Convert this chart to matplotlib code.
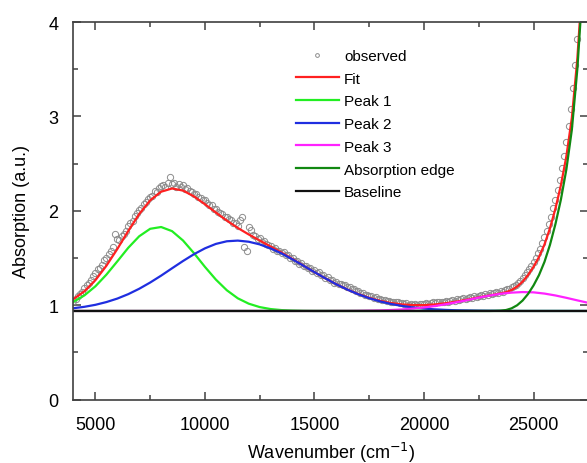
import numpy as np
import matplotlib.pyplot as plt
from matplotlib.ticker import MultipleLocator

plt.rcParams['font.family'] = ['Liberation Sans', 'DejaVu Sans']

# wavenumber grid for the fitted components (cm-1)
wn = np.arange(4000, 27501, 500)

baseline_x = [4000, 27500]
baseline_y = [0.94, 0.94]

peak1 = [1.037, 1.105, 1.201, 1.324, 1.465, 1.609, 1.731, 1.810, 1.829, 1.785,
         1.686, 1.552, 1.407, 1.272, 1.159, 1.074, 1.017, 0.981, 0.960, 0.949,
         0.944, 0.941] + [0.94] * 26

peak2 = [0.969, 0.984, 1.005, 1.034, 1.071, 1.118, 1.175, 1.241, 1.314, 1.392,
         1.469, 1.541, 1.603, 1.650, 1.678, 1.685, 1.673, 1.645, 1.602, 1.549,
         1.486, 1.419, 1.351, 1.285, 1.222, 1.166, 1.117, 1.075, 1.041, 1.014,
         0.993, 0.977, 0.965, 0.957, 0.951, 0.947, 0.945, 0.943, 0.942, 0.941] + [0.94] * 8

peak3 = [0.94] * 22 + [0.940, 0.940, 0.941, 0.941, 0.942, 0.944, 0.946, 0.950, 0.956, 0.965,
                      0.977, 0.992, 1.011, 1.033, 1.056, 1.081, 1.103, 1.122, 1.134, 1.140,
                      1.137, 1.124, 1.104, 1.079, 1.052, 1.026]

edge_x = [4000, 22000, 23000, 23250, 23500, 23750, 24000, 24250, 24500, 24750, 25000,
          25250, 25500, 25750, 26000, 26250, 26500, 26750, 27000, 27250, 27500]
edge_y = [0.94, 0.94, 0.940, 0.941, 0.943, 0.950, 0.968, 1.000, 1.050, 1.120, 1.210,
          1.320, 1.460, 1.640, 1.860, 2.120, 2.440, 2.860, 3.500, 4.400, 5.500]

fit_x = list(range(4000, 23001, 500)) + list(range(23250, 27501, 250))
fit_y = [1.066, 1.149, 1.266, 1.418, 1.596, 1.787, 1.966, 2.111, 2.203, 2.237,
         2.215, 2.153, 2.070, 1.982, 1.897, 1.819, 1.750, 1.686, 1.622, 1.558,
         1.490, 1.420, 1.351, 1.285, 1.223, 1.167, 1.119, 1.079, 1.047, 1.024,
         1.009, 1.002, 1.002, 1.009, 1.022, 1.040, 1.061, 1.084, 1.105,
         1.115, 1.126, 1.139, 1.162, 1.198, 1.250, 1.320, 1.407, 1.512, 1.644,
         1.815, 2.024, 2.272, 2.579, 2.986, 3.612, 4.499, 5.586]

obs_x = np.arange(4000, 27101, 100)
obs_y = [1.05, 1.07, 1.10, 1.12, 1.14, 1.18, 1.22, 1.24, 1.27, 1.31,
         1.34, 1.38, 1.40, 1.43, 1.48, 1.50, 1.54, 1.57, 1.62, 1.76,
         1.70, 1.69, 1.73, 1.76, 1.79, 1.84, 1.87, 1.89, 1.95, 1.98,
         2.01, 2.03, 2.07, 2.09, 2.13, 2.15, 2.16, 2.21, 2.20, 2.24,
         2.26, 2.27, 2.25, 2.30, 2.36, 2.28, 2.30, 2.25, 2.28, 2.25,
         2.27, 2.23, 2.24, 2.21, 2.20, 2.18, 2.18, 2.15, 2.14, 2.11,
         2.11, 2.08, 2.06, 2.06, 2.02, 2.02, 1.99, 1.98, 1.97, 1.94,
         1.94, 1.91, 1.90, 1.87, 1.87, 1.84, 1.90, 1.94, 1.62, 1.58,
         1.83, 1.80, 1.74, 1.73, 1.70, 1.71, 1.67, 1.68, 1.65, 1.64,
         1.63, 1.60, 1.61, 1.58, 1.58, 1.55, 1.56, 1.53, 1.53, 1.50,
         1.50, 1.47, 1.47, 1.44, 1.45, 1.42, 1.42, 1.39, 1.39, 1.36,
         1.37, 1.34, 1.35, 1.32, 1.32, 1.29, 1.30, 1.27, 1.27, 1.24,
         1.25, 1.23, 1.23, 1.21, 1.21, 1.19, 1.19, 1.17, 1.17, 1.15,
         1.15, 1.13, 1.13, 1.11, 1.11, 1.10, 1.10, 1.08, 1.09, 1.07,
         1.07, 1.06, 1.06, 1.05, 1.05, 1.04, 1.04, 1.03, 1.03, 1.02,
         1.02, 1.01, 1.02, 1.00, 1.01, 1.00, 1.01, 1.00, 1.01, 1.01,
         1.01, 1.02, 1.01, 1.02, 1.03, 1.02, 1.03, 1.04, 1.03, 1.04,
         1.05, 1.04, 1.05, 1.06, 1.05, 1.07, 1.06, 1.07, 1.08, 1.07,
         1.08, 1.09, 1.08, 1.10, 1.09, 1.10, 1.11, 1.10, 1.12, 1.11,
         1.13, 1.12, 1.13, 1.14, 1.13, 1.15, 1.14, 1.16, 1.17, 1.17,
         1.19, 1.20, 1.22, 1.24, 1.26, 1.29, 1.32, 1.35, 1.38, 1.42,
         1.46, 1.50, 1.55, 1.60, 1.66, 1.72, 1.79, 1.86, 1.94, 2.03,
         2.12, 2.22, 2.33, 2.45, 2.58, 2.73, 2.90, 3.08, 3.30, 3.55,
         3.82, 4.10]

fig = plt.figure(figsize=(5.87, 4.64), dpi=100)
ax = fig.add_axes([0.1252, 0.1364, 0.877, 0.814])

ax.plot(obs_x, obs_y, 'o', ms=4.5, mfc='none', mec='#8c8c8c', mew=0.7, label='observed')
ax.plot(fit_x, fit_y, color='#ff2020', lw=1.6, label='Fit')
ax.plot(wn, peak1, color='#22ee22', lw=1.6, label='Peak 1')
ax.plot(wn, peak2, color='#1f2ee0', lw=1.6, label='Peak 2')
ax.plot(wn, peak3, color='#ff22ff', lw=1.6, label='Peak 3')
ax.plot(edge_x, edge_y, color='#118811', lw=1.6, label='Absorption edge')
ax.plot(baseline_x, baseline_y, color='#111111', lw=1.6, label='Baseline')

ax.set_xlim(4000, 27500)
ax.set_ylim(0, 4)
ax.set_xticks([5000, 10000, 15000, 20000, 25000])
ax.set_yticks([0, 1, 2, 3, 4])
ax.xaxis.set_minor_locator(MultipleLocator(2500))
ax.yaxis.set_minor_locator(MultipleLocator(0.5))
ax.tick_params(which='both', direction='in', top=True, right=True,
               color='#404040', width=1.1, labelsize=13)
ax.tick_params(which='major', length=6)
ax.tick_params(which='minor', length=3.5)
ax.tick_params(axis='x', pad=12)
ax.tick_params(axis='y', pad=11)
for s in ax.spines.values():
    s.set_color('#404040')
    s.set_linewidth(1.2)

ax.set_xlabel('Wavenumber (cm$^{-1}$)', fontsize=13, labelpad=5)
ax.set_ylabel('Absorption (a.u.)', fontsize=13, labelpad=13)

ax.legend(loc='upper left', bbox_to_anchor=(296 / 587, 1 - 50 / 464),
          bbox_transform=fig.transFigure, frameon=False, fontsize=11,
          handlelength=2.8, handletextpad=0.35, labelspacing=0.57,
          borderpad=0, borderaxespad=0, markerscale=0.6)

fig.savefig('out.png', dpi=100)
